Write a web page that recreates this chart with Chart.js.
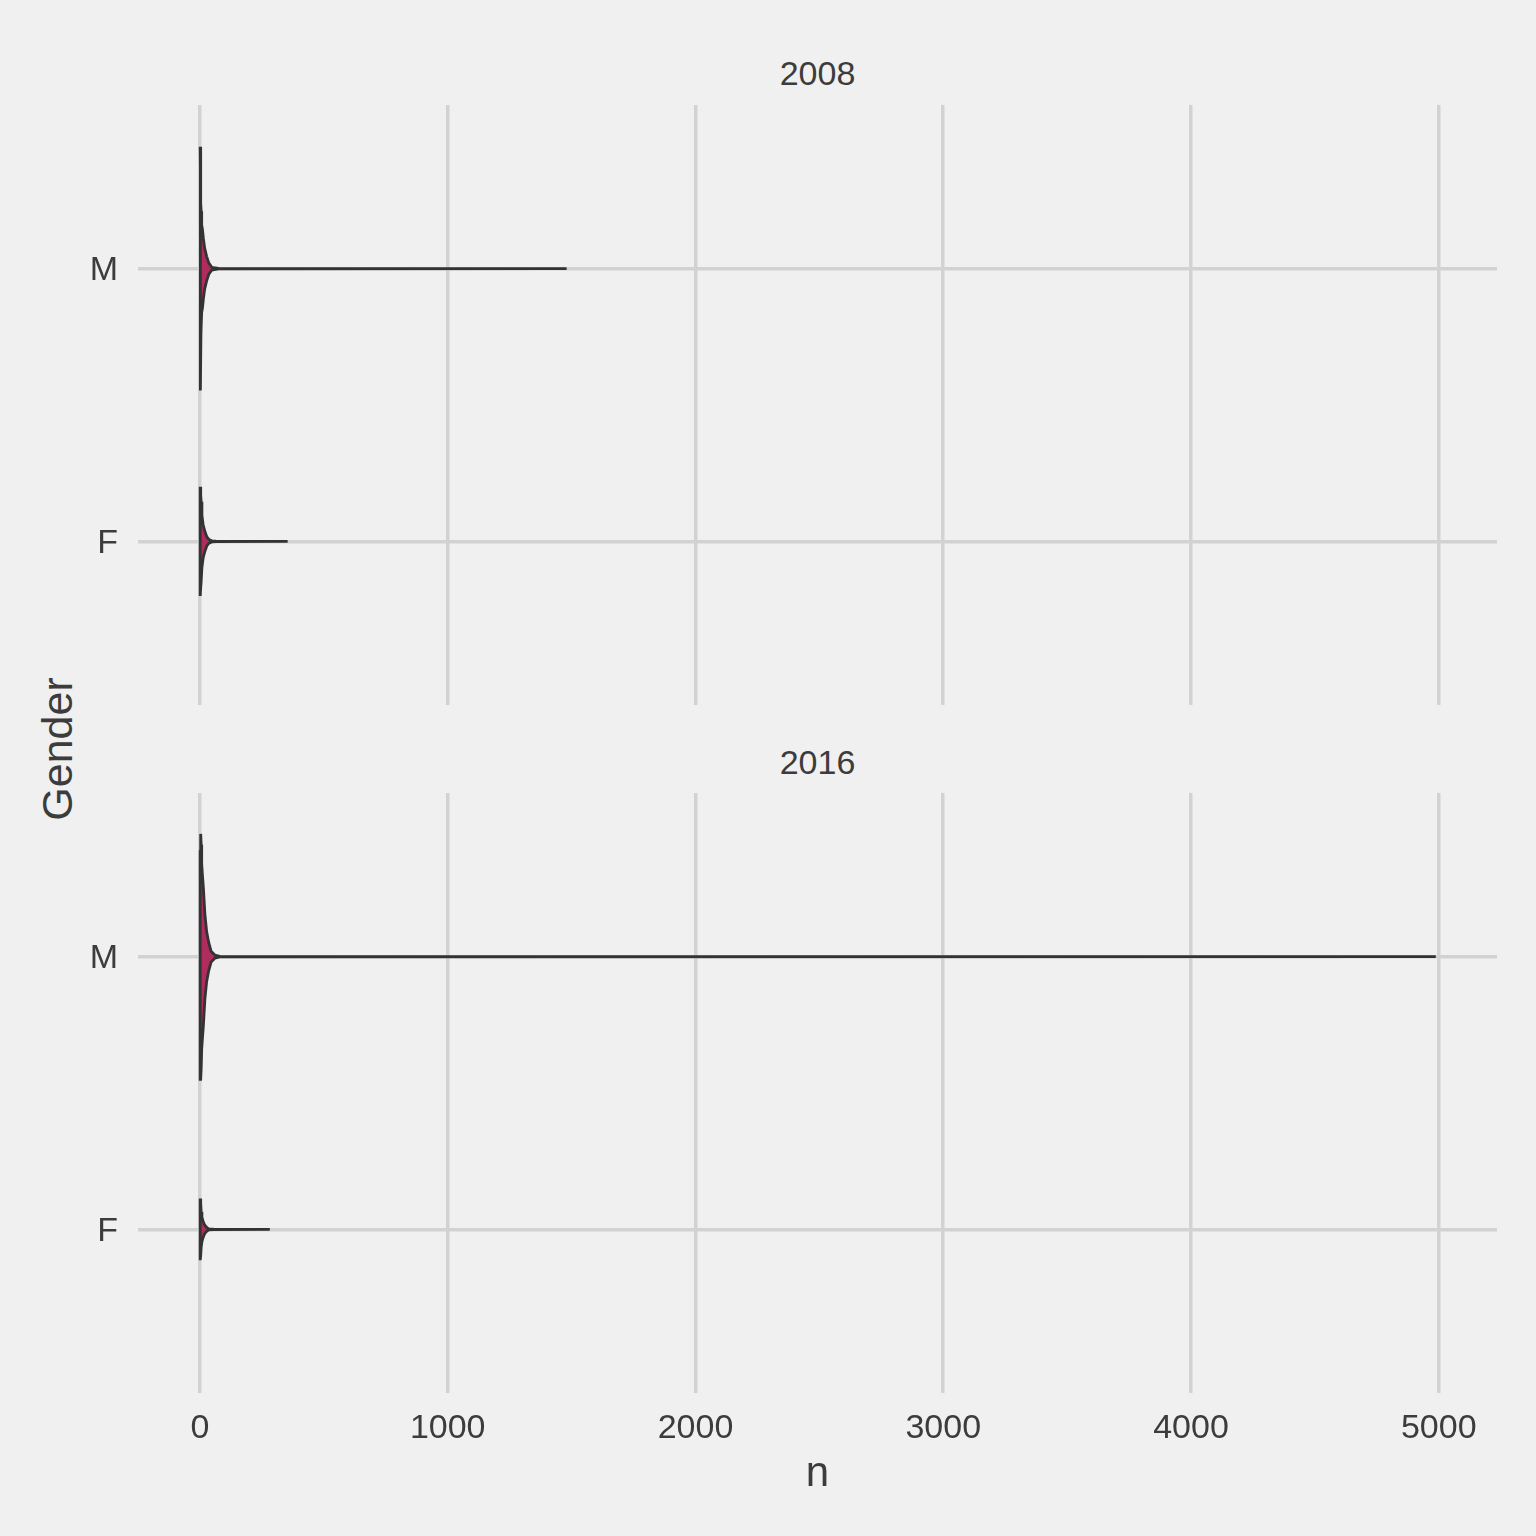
<!DOCTYPE html>
<html>
<head>
<meta charset="utf-8">
<script src="https://cdn.jsdelivr.net/npm/chart.js@4.4.1/dist/chart.umd.min.js"></script>
<style>
  html, body { margin: 0; padding: 0; background: #f0f0f0; }
  body { width: 1536px; height: 1536px; position: relative; overflow: hidden;
         font-family: "Liberation Sans", Arial, sans-serif; color: #3c3c3c; }
  .panel { position: absolute; left: 0; width: 1536px; }
  .strip { position: absolute; left: 138px; width: 1359px; text-align: center; font-size: 34px; line-height: 34px; }
  #ylab { position: absolute; left: 57px; top: 749px; font-size: 43px; line-height: 43px;
          transform: translate(-50%, -50%) rotate(-90deg); white-space: nowrap; }
</style>
</head>
<body>
<div class="strip" style="top:56px">2008</div>
<div class="strip" style="top:745px">2016</div>
<div id="ylab">Gender</div>
<div class="panel" style="top:0;height:720px"><canvas id="chart2008"></canvas></div>
<div class="panel" style="top:720px;height:816px"><canvas id="chart2016"></canvas></div>
<script>
// facets, categories, ticks
const years = ["2008", "2016"];
const genders = ["F", "M"];
const xTicks = [0, 1000, 2000, 3000, 4000, 5000];

// violin outlines: n values and half widths (category units)
const m2008N = [1, 2, 3, 4, 5, 7, 10, 14, 19, 27, 36, 48, 75, 1480];
const m2008W = [0.447, 0.40, 0.30, 0.24, 0.21, 0.16, 0.145, 0.11, 0.075, 0.045, 0.02, 0.005, 0.001, 0];
const f2008N = [1, 3, 5, 8, 13, 20, 28, 36, 48, 65, 354];
const f2008W = [0.20, 0.17, 0.145, 0.095, 0.06, 0.036, 0.016, 0.007, 0.002, 0.0005, 0];
const m2016N = [1, 3, 5, 7, 10, 14, 20, 27, 35, 45, 60, 80, 4988];
const m2016W = [0.39, 0.45, 0.41, 0.34, 0.30, 0.25, 0.155, 0.092, 0.053, 0.02, 0.006, 0.001, 0];
const f2016N = [1, 3, 5, 8, 12, 18, 26, 35, 55, 282];
const f2016W = [0.113, 0.095, 0.065, 0.045, 0.032, 0.018, 0.008, 0.002, 0.0005, 0];

const GRID = "#d2d2d2";
const TEXT = "#3c3c3c";
const FILL = "#b02b5e";
const EDGE = "#333333";

function violin(nVals, widths, gender) {
  const pos = genders.indexOf(gender) + 1;
  const upper = nVals.map((v, i) => ({ x: v, y: pos + widths[i] }));
  const lower = nVals.map((v, i) => ({ x: v, y: pos - widths[i] })).reverse();
  const pts = upper.concat(lower);
  pts.push(upper[0]);
  return {
    data: pts,
    showLine: true,
    fill: "shape",
    backgroundColor: FILL,
    borderColor: EDGE,
    borderWidth: 2.8,
    pointRadius: 0,
    tension: 0
  };
}

function makePanel(id, datasets, isBottom) {
  return new Chart(document.getElementById(id), {
    type: "scatter",
    data: { datasets },
    options: {
      responsive: true,
      maintainAspectRatio: false,
      animation: false,
      layout: { padding: isBottom ? { top: 73, right: 39, bottom: 0, left: 0 }
                                   : { top: 105, right: 39, bottom: 15, left: 0 } },
      plugins: { legend: { display: false }, tooltip: { enabled: false } },
      scales: {
        x: {
          type: "linear",
          min: -250,
          max: 5235,
          afterBuildTicks: (s) => { s.ticks = xTicks.map(v => ({ value: v })); },
          afterFit: (s) => { s.height = isBottom ? 143 : 0; s.paddingLeft = 0; s.paddingRight = 0; },
          grid: { color: GRID, lineWidth: 3.5, drawTicks: false },
          border: { display: false },
          ticks: {
            display: isBottom,
            color: TEXT,
            padding: 15,
            maxRotation: 0,
            font: { family: "Liberation Sans", size: 34 },
            callback: (v) => String(v)
          },
          title: {
            display: isBottom,
            text: "n",
            color: TEXT,
            padding: { top: 0, bottom: 36 },
            font: { family: "Liberation Sans", size: 42 }
          }
        },
        y: {
          type: "linear",
          min: 0.4,
          max: 2.6,
          afterBuildTicks: (s) => { s.ticks = genders.map((g, i) => ({ value: i + 1 })); },
          afterFit: (s) => { s.width = 138; s.paddingTop = 0; s.paddingBottom = 0; },
          grid: { color: GRID, lineWidth: 3.5, drawTicks: false },
          border: { display: false },
          ticks: {
            color: TEXT,
            padding: 20,
            labelOffset: 2,
            font: { family: "Liberation Sans", size: 34 },
            callback: (v) => genders[v - 1]
          }
        }
      }
    }
  });
}

makePanel("chart2008", [violin(m2008N, m2008W, "M"), violin(f2008N, f2008W, "F")], false);
makePanel("chart2016", [violin(m2016N, m2016W, "M"), violin(f2016N, f2016W, "F")], true);
</script>
</body>
</html>
